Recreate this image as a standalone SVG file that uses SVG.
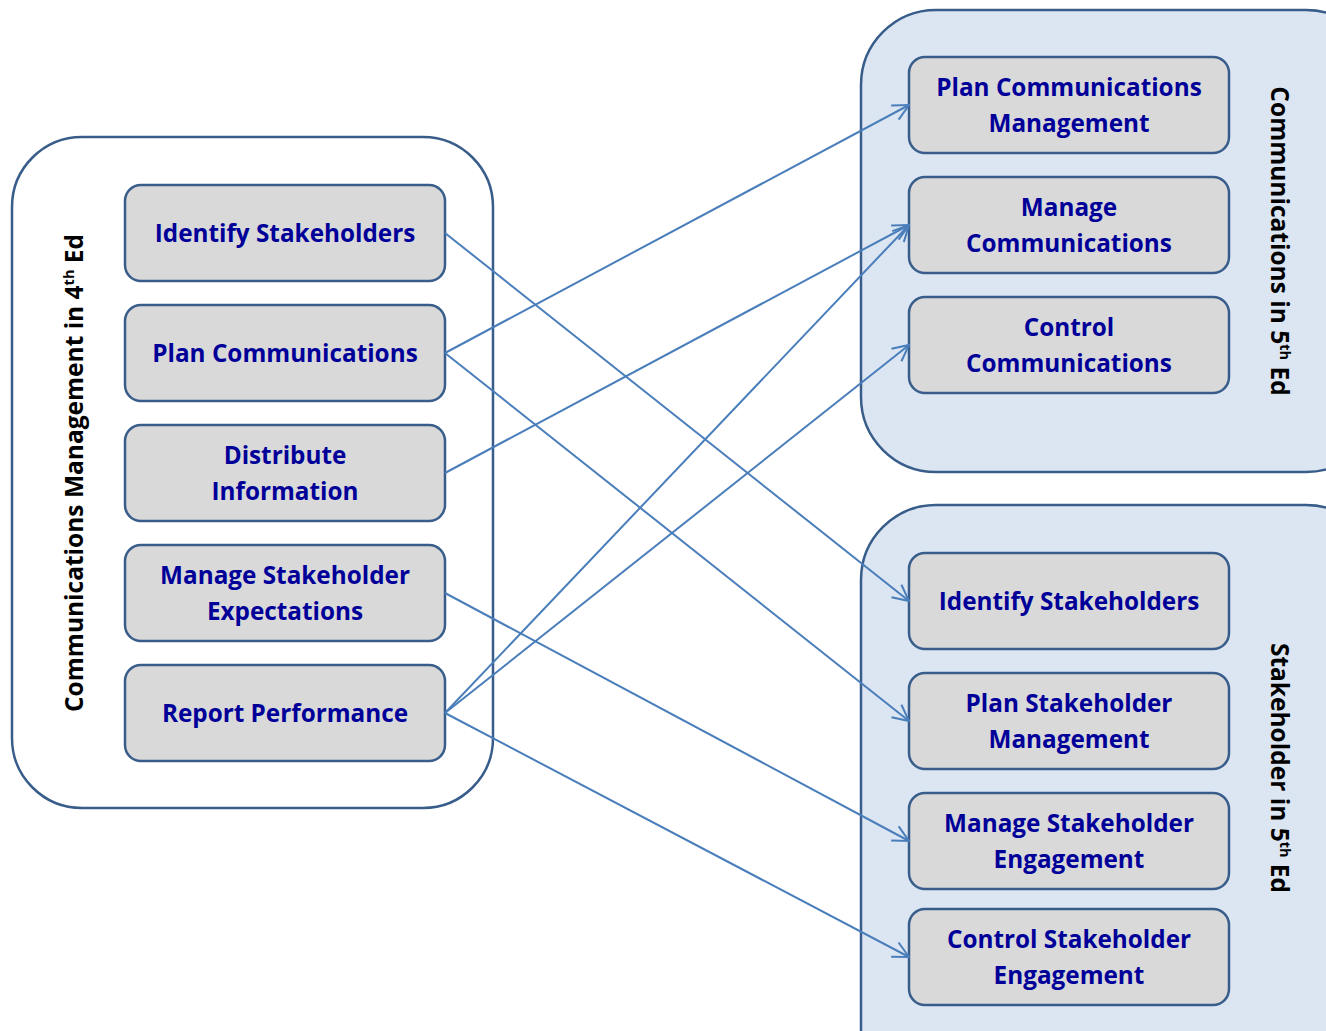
<svg xmlns="http://www.w3.org/2000/svg" width="1326" height="1031" viewBox="0 0 1326 1031">
<style>
.cont{stroke:#385D8A;stroke-width:2.5}
.box{fill:#D9D9D9;stroke:#385D8A;stroke-width:2.5}
.t{font-family:"Open Sans","Liberation Sans",sans-serif;font-weight:bold;font-size:24.3px;fill:#000099;text-anchor:middle}
.v{font-family:"Open Sans","Liberation Sans",sans-serif;font-weight:bold;font-size:24.5px;fill:#000;text-anchor:middle}
.sup{font-size:14.5px}
.c{stroke:#4A7EBB;stroke-width:2;fill:none;marker-end:url(#ah)}
</style>
<defs>
<marker id="ah" viewBox="0 0 20 20" refX="19" refY="10" markerWidth="20" markerHeight="20" markerUnits="userSpaceOnUse" orient="auto">
<path d="M3,2 L19,10 L3,18" fill="none" stroke="#4A7EBB" stroke-width="2"/>
</marker>
</defs>
<rect width="1326" height="1031" fill="#fff"/>
<g id="group-4th">
<rect class="cont" x="12" y="137" width="481" height="671" rx="70" fill="#fff"/>
<text class="v" transform="translate(83,473) rotate(-90)">Communications Management in 4<tspan class="sup" dy="-9">th</tspan><tspan dy="9"> Ed</tspan></text>
</g>
<g id="group-comm5">
<rect class="cont" x="861" y="10" width="520" height="462" rx="75" fill="#DCE6F2"/>
<text class="v" transform="translate(1271,241) rotate(90)">Communications in 5<tspan class="sup" dy="-9">th</tspan><tspan dy="9"> Ed</tspan></text>
</g>
<g id="group-stake5">
<rect class="cont" x="861" y="505" width="520" height="600" rx="75" fill="#DCE6F2"/>
<text class="v" transform="translate(1271,768) rotate(90)">Stakeholder in 5<tspan class="sup" dy="-9">th</tspan><tspan dy="9"> Ed</tspan></text>
</g>
<g id="l1"><rect class="box" x="125" y="185" width="320" height="96" rx="16"/><text class="t" x="285" y="242">Identify Stakeholders</text></g>
<g id="l2"><rect class="box" x="125" y="305" width="320" height="96" rx="16"/><text class="t" x="285" y="362">Plan Communications</text></g>
<g id="l3"><rect class="box" x="125" y="425" width="320" height="96" rx="16"/><text class="t" x="285" y="464">Distribute</text><text class="t" x="285" y="500">Information</text></g>
<g id="l4"><rect class="box" x="125" y="545" width="320" height="96" rx="16"/><text class="t" x="285" y="584">Manage Stakeholder</text><text class="t" x="285" y="620">Expectations</text></g>
<g id="l5"><rect class="box" x="125" y="665" width="320" height="96" rx="16"/><text class="t" x="285" y="722">Report Performance</text></g>
<g id="r1"><rect class="box" x="909" y="57" width="320" height="96" rx="16"/><text class="t" x="1069" y="96">Plan Communications</text><text class="t" x="1069" y="132">Management</text></g>
<g id="r2"><rect class="box" x="909" y="177" width="320" height="96" rx="16"/><text class="t" x="1069" y="216">Manage</text><text class="t" x="1069" y="252">Communications</text></g>
<g id="r3"><rect class="box" x="909" y="297" width="320" height="96" rx="16"/><text class="t" x="1069" y="336">Control</text><text class="t" x="1069" y="372">Communications</text></g>
<g id="r4"><rect class="box" x="909" y="553" width="320" height="96" rx="16"/><text class="t" x="1069" y="610">Identify Stakeholders</text></g>
<g id="r5"><rect class="box" x="909" y="673" width="320" height="96" rx="16"/><text class="t" x="1069" y="712">Plan Stakeholder</text><text class="t" x="1069" y="748">Management</text></g>
<g id="r6"><rect class="box" x="909" y="793" width="320" height="96" rx="16"/><text class="t" x="1069" y="832">Manage Stakeholder</text><text class="t" x="1069" y="868">Engagement</text></g>
<g id="r7"><rect class="box" x="909" y="909" width="320" height="96" rx="16"/><text class="t" x="1069" y="948">Control Stakeholder</text><text class="t" x="1069" y="984">Engagement</text></g>
<g id="connectors">
<line class="c" x1="445" y1="233" x2="909" y2="601"/>
<line class="c" x1="445" y1="353" x2="909" y2="105"/>
<line class="c" x1="445" y1="353" x2="909" y2="721"/>
<line class="c" x1="445" y1="473" x2="909" y2="225"/>
<line class="c" x1="445" y1="593" x2="909" y2="841"/>
<line class="c" x1="445" y1="713" x2="909" y2="225"/>
<line class="c" x1="445" y1="713" x2="909" y2="345"/>
<line class="c" x1="445" y1="713" x2="909" y2="957"/>
</g>
</svg>
